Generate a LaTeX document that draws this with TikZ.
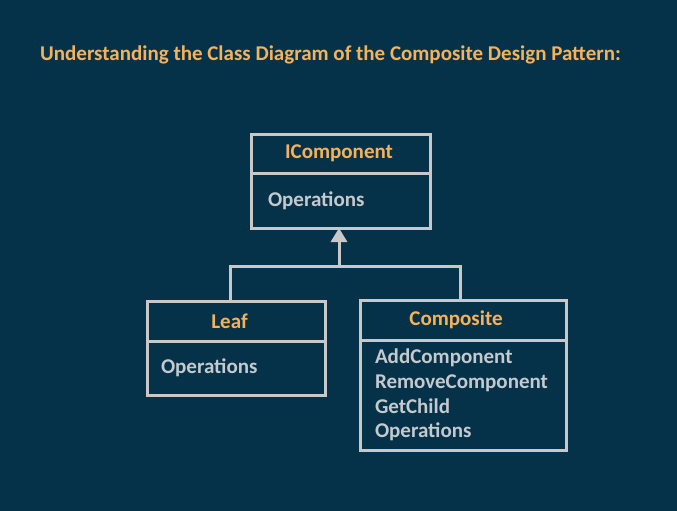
\documentclass[tikz,border=0pt]{standalone}
\usepackage{fontspec}
\setmainfont{Carlito}
\usepackage{tikz}
\usetikzlibrary{positioning, calc, arrows.meta}

\definecolor{bgnavy}{RGB}{6,50,73}
\definecolor{titleorange}{RGB}{245,178,90}
\definecolor{linegray}{RGB}{200,200,200}
\definecolor{textgray}{RGB}{196,202,206}

\begin{document}
\begin{tikzpicture}[x=1pt, y=-1pt,
    every node/.style={font=\fontsize{21}{24.7}\selectfont\bfseries},
    classhead/.style={draw=linegray, line width=3pt, outer sep=0pt, minimum height=39pt, text=titleorange},
    classbody/.style={draw=linegray, line width=3pt, outer sep=0pt, anchor=north, align=left, text=textgray},
    link/.style={draw=linegray, line width=3pt}]
    \fill[bgnavy] (0,0) rectangle (677,511);
    \useasboundingbox (0,0) rectangle (677,511);

    \node[anchor=base west, inner sep=0pt, text=titleorange] (title) at (40,61)
        {Understanding the Class Diagram of the Composite Design Pattern:};

    % interface
    \node[classhead, minimum width=179pt] (icomphead) at (340.5,153.5) {IComponent\hspace*{3pt}};
    \node[classbody, text width=145pt, inner xsep=17pt, minimum height=55pt,
        below=0pt of icomphead] (icompbody) {Operations};

    % leaf
    \node[classhead, minimum width=178pt, minimum height=40pt] (leafhead) at (236,321) {Leaf\hspace*{13pt}};
    \node[classbody, text width=150pt, inner xsep=14pt, minimum height=54pt,
        below=0pt of leafhead] (leafbody) {Operations};

    % composite
    \node[classhead, minimum width=206pt, minimum height=40pt] (comphead) at (463,320) {Composite\hspace*{14pt}};
    \node[classbody, text width=176pt, inner xsep=15pt, minimum height=110pt,
        below=0pt of comphead] (compbody) {AddComponent\\RemoveComponent\\GetChild\\Operations};

    \coordinate (bend) at (339,266);
    \draw[link] ([xshift=-6pt]leafhead.north) |- (bend) -| ([xshift=-3pt]comphead.north);
    \draw[link, -{Triangle[width=16pt, length=14pt]}] (bend) -- (bend |- icompbody.south);
\end{tikzpicture}
\end{document}
